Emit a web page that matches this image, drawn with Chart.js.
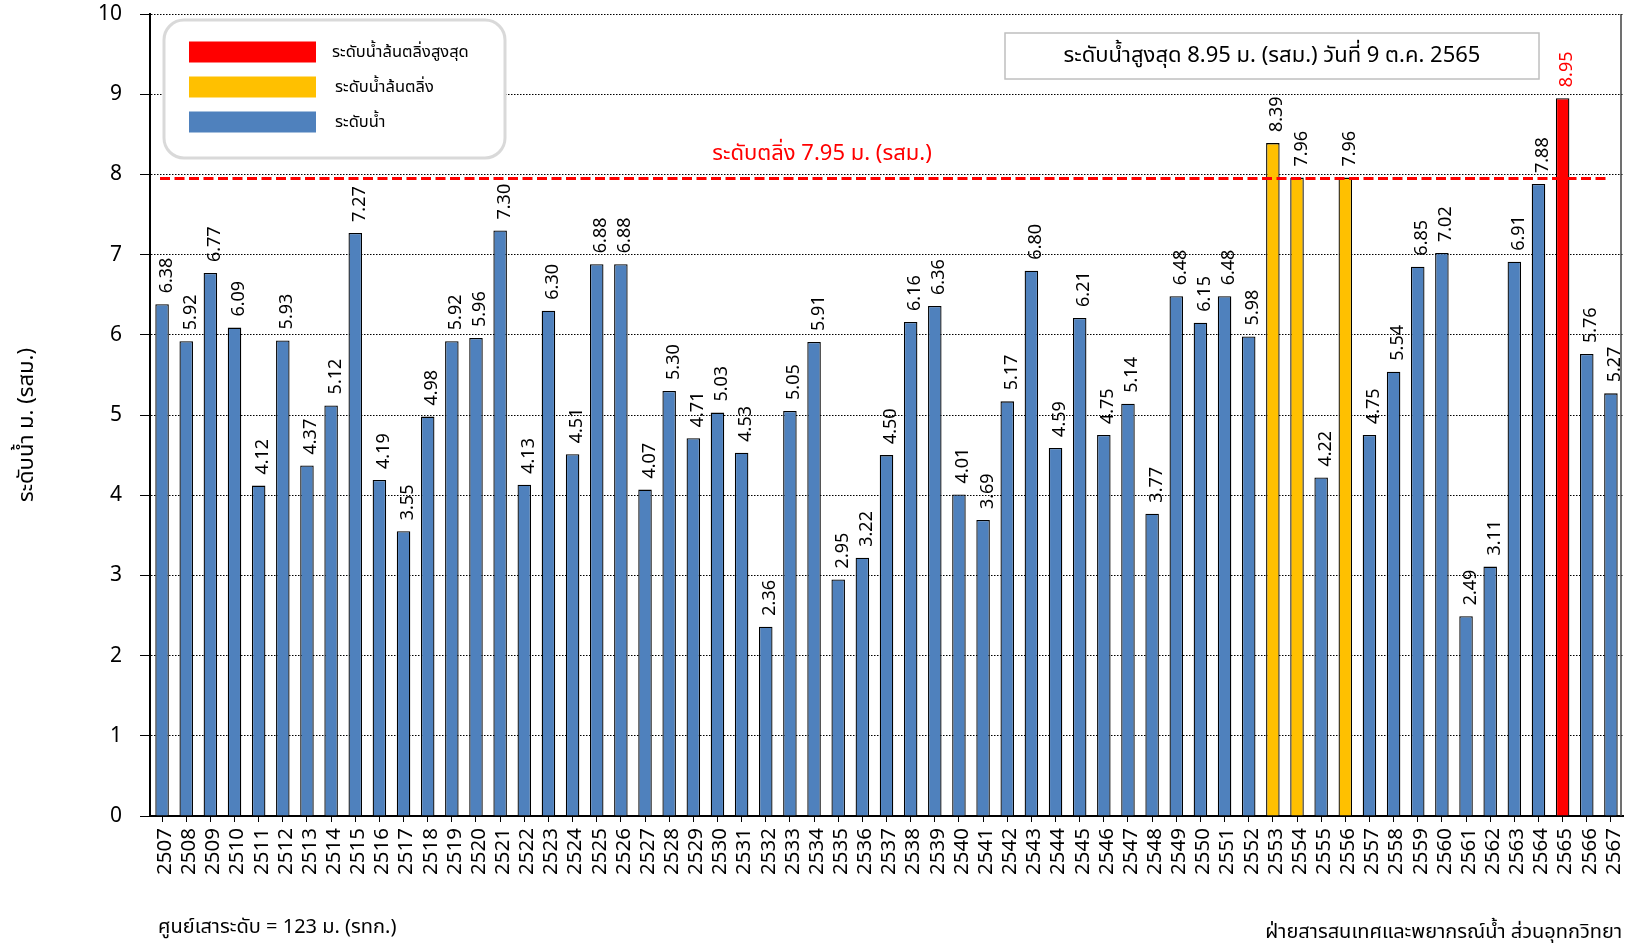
<!DOCTYPE html>
<html>
<head>
<meta charset="utf-8">
<script src="https://cdn.jsdelivr.net/npm/chart.js@4.4.0/dist/chart.umd.min.js"></script>
<style>
html,body{margin:0;padding:0;background:#fff;overflow:hidden}
#wrap{width:1627px;height:946px;position:relative}
</style>
</head>
<body>
<div id="wrap"><canvas id="c" width="1627" height="946"></canvas></div>
<script>
// ---- data ----
const years = ['2507','2508','2509','2510','2511','2512','2513','2514','2515','2516','2517','2518','2519','2520','2521','2522','2523','2524','2525','2526','2527','2528','2529','2530','2531','2532','2533','2534','2535','2536','2537','2538','2539','2540','2541','2542','2543','2544','2545','2546','2547','2548','2549','2550','2551','2552','2553','2554','2555','2556','2557','2558','2559','2560','2561','2562','2563','2564','2565','2566','2567'];
const levels = [6.38,5.92,6.77,6.09,4.12,5.93,4.37,5.12,7.27,4.19,3.55,4.98,5.92,5.96,7.30,4.13,6.30,4.51,6.88,6.88,4.07,5.30,4.71,5.03,4.53,2.36,5.05,5.91,2.95,3.22,4.50,6.16,6.36,4.01,3.69,5.17,6.80,4.59,6.21,4.75,5.14,3.77,6.48,6.15,6.48,5.98,8.39,7.96,4.22,7.96,4.75,5.54,6.85,7.02,2.49,3.11,6.91,7.88,8.95,5.76,5.27];
const bankLevel = 7.95;
const yMin = 0, yMax = 10, yStep = 1;
const legendLabels = ['ระดับน้ำล้นตลิ่งสูงสุด','ระดับน้ำล้นตลิ่ง','ระดับน้ำ'];
const legendColors = ['#ff0000','#ffc000','#4f81bd'];
const titleText = 'ระดับน้ำสูงสุด 8.95 ม. (รสม.) วันที่ 9 ต.ค. 2565';
const bankText = 'ระดับตลิ่ง 7.95 ม. (รสม.)';
const yTitle = 'ระดับน้ำ ม. (รสม.)';
const footLeft = 'ศูนย์เสาระดับ = 123 ม. (รทก.)';
const footRight = 'ฝ่ายสารสนเทศและพยากรณ์น้ำ ส่วนอุทกวิทยา';

const FONT = "'Noto Sans', 'DejaVu Sans', sans-serif";
const THAI = "Tahoma, 'Noto Sans Thai', 'Noto Sans', 'DejaVu Sans', sans-serif";

const maxVal = Math.max(...levels);
const barColors = levels.map(v => v === maxVal ? legendColors[0] : (v > bankLevel ? legendColors[1] : legendColors[2]));

function rrect(ctx, x, y, w, h, r) {
  ctx.beginPath();
  ctx.moveTo(x + r, y);
  ctx.lineTo(x + w - r, y);
  ctx.arcTo(x + w, y, x + w, y + r, r);
  ctx.lineTo(x + w, y + h - r);
  ctx.arcTo(x + w, y + h, x + w - r, y + h, r);
  ctx.lineTo(x + r, y + h);
  ctx.arcTo(x, y + h, x, y + h - r, r);
  ctx.lineTo(x, y + r);
  ctx.arcTo(x, y, x + r, y, r);
  ctx.closePath();
}

const annot = {
  id: 'annot',
  beforeDraw(chart) {
    const ctx = chart.ctx;
    ctx.save();
    ctx.fillStyle = '#fff';
    ctx.fillRect(0, 0, chart.width, chart.height);
    ctx.restore();
  },
  afterDatasetsDraw(chart) {
    const ctx = chart.ctx;
    const ca = chart.chartArea;
    const ys = chart.scales.y;
    const meta = chart.getDatasetMeta(0);
    ctx.save();
    // right edge line
    ctx.strokeStyle = '#404040';
    ctx.lineWidth = 1.5;
    ctx.beginPath();
    ctx.moveTo(ca.right - 2, ca.top);
    ctx.lineTo(ca.right - 2, ca.bottom);
    ctx.stroke();
    // data labels
    ctx.font = '18px ' + FONT;
    ctx.textAlign = 'left';
    ctx.textBaseline = 'alphabetic';
    meta.data.forEach((bar, i) => {
      const v = levels[i];
      ctx.save();
      ctx.translate(bar.x + 9.5, bar.y - 11);
      ctx.rotate(-Math.PI / 2);
      ctx.fillStyle = v === maxVal ? '#ff0000' : '#000';
      ctx.fillText(v.toFixed(2), 0, 0);
      ctx.restore();
    });
    // bank line
    const by = ys.getPixelForValue(bankLevel);
    ctx.strokeStyle = '#ff0000';
    ctx.lineWidth = 3;
    ctx.setLineDash([10, 4.5]);
    ctx.beginPath();
    ctx.moveTo(ca.left + 10, by);
    ctx.lineTo(ca.right - 16, by);
    ctx.stroke();
    ctx.setLineDash([]);
    ctx.fillStyle = '#ff0000';
    ctx.font = '22px ' + THAI;
    ctx.textAlign = 'center';
    ctx.textBaseline = 'middle';
    ctx.fillText(bankText, 822, by - 23);

    // legend box
    ctx.lineWidth = 3;
    ctx.strokeStyle = '#d9d9d9';
    ctx.fillStyle = '#fff';
    rrect(ctx, 164, 20, 341, 138, 20);
    ctx.fill();
    ctx.stroke();
    const rows = [52, 87, 122];
    ctx.font = '16.5px ' + THAI;
    ctx.textAlign = 'left';
    ctx.textBaseline = 'middle';
    legendLabels.forEach((t, i) => {
      ctx.fillStyle = legendColors[i];
      ctx.fillRect(189, rows[i] - 10.5, 127, 21);
      ctx.fillStyle = '#000';
      ctx.fillText(t, i === 0 ? 332 : 335, rows[i] + 2);
    });

    // title box
    ctx.fillStyle = '#fff';
    ctx.fillRect(1005, 33, 534, 46);
    ctx.strokeStyle = '#bfbfbf';
    ctx.lineWidth = 1.5;
    ctx.strokeRect(1005, 33, 534, 46);
    ctx.fillStyle = '#000';
    ctx.font = '22px ' + THAI;
    ctx.textAlign = 'center';
    ctx.fillText(titleText, 1272, 58);

    // y title
    ctx.save();
    ctx.translate(29, 425);
    ctx.rotate(-Math.PI / 2);
    ctx.font = '22px ' + THAI;
    ctx.textAlign = 'center';
    ctx.textBaseline = 'middle';
    ctx.fillText(yTitle, 0, 0);
    ctx.restore();

    // footers
    ctx.font = '20px ' + THAI;
    ctx.textBaseline = 'middle';
    ctx.textAlign = 'left';
    ctx.fillText(footLeft, 158, 929);
    ctx.textAlign = 'right';
    ctx.fillText(footRight, 1622, 934);
    ctx.restore();
  }
};

new Chart(document.getElementById('c'), {
  type: 'bar',
  data: {
    labels: years,
    datasets: [{
      data: levels,
      backgroundColor: barColors,
      borderColor: '#000',
      borderWidth: 1.3,
      barPercentage: 0.56,
      categoryPercentage: 1.0
    }]
  },
  options: {
    responsive: false,
    animation: false,
    devicePixelRatio: 1,
    layout: { padding: { top: 14, right: 4, left: 0, bottom: 0 } },
    plugins: { legend: { display: false }, tooltip: { enabled: false } },
    scales: {
      x: {
        offset: true,
        grid: { display: true, drawOnChartArea: false, drawTicks: true, tickLength: 6, color: '#000', offset: false },
        border: { display: true, color: '#000', width: 2 },
        ticks: { autoSkip: false, minRotation: 90, maxRotation: 90, color: '#000', padding: 6, labelOffset: 3, font: { family: FONT, size: 20.5 } },
        afterFit(s) { s.height = 130; s.paddingLeft = 0; s.paddingRight = 0; }
      },
      y: {
        min: yMin, max: yMax,
        ticks: { stepSize: yStep, color: '#000', padding: 18, font: { family: FONT, size: 21 } },
        grid: { color: '#000', lineWidth: 1, tickLength: 10, tickColor: '#000', drawTicks: true },
        border: { display: true, color: '#000', width: 2, dash: [1.5, 1.5] },
        afterFit(s) { s.width = 150; s.paddingTop = 0; s.paddingBottom = 0; }
      }
    }
  },
  plugins: [annot]
});
</script>
</body>
</html>
